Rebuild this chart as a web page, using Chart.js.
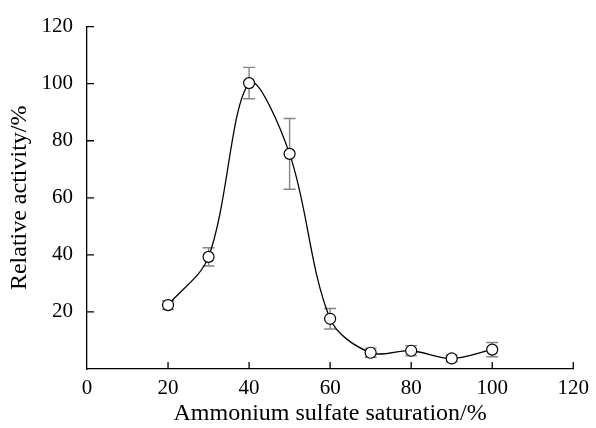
<!DOCTYPE html>
<html>
<head>
<meta charset="utf-8">
<script src="https://cdn.jsdelivr.net/npm/chart.js@4.4.0/dist/chart.umd.min.js"></script>
<style>
  html, body { margin: 0; padding: 0; background: #fff; }
  #wrap { width: 596px; height: 428px; }
</style>
</head>
<body>
<div id="wrap"><canvas id="chart" width="596" height="428"></canvas></div>
<script>
// Ammonium sulfate saturation vs relative activity
const saturation = [20, 30, 40, 50, 60, 70, 80, 90, 100];
const activity = [22.4, 39.3, 100.2, 75.4, 17.6, 5.7, 6.4, 3.7, 6.8];
const errors = [1.5, 3.2, 5.5, 12.4, 3.6, 1.6, 1.8, 1.2, 2.5];
const xTicks = [0, 20, 40, 60, 80, 100, 120];
const yTicks = [0, 20, 40, 60, 80, 100, 120];

const serif = "'Liberation Serif', 'Times New Roman', serif";

// error bars drawn behind the markers
const errorBars = {
  id: 'errorBars',
  beforeDatasetsDraw(chart) {
    const ctx = chart.ctx;
    const xs = chart.scales.x, ys = chart.scales.y;
    ctx.save();
    ctx.strokeStyle = '#858585';
    ctx.lineWidth = 1.4;
    for (let i = 0; i < saturation.length; i++) {
      const px = xs.getPixelForValue(saturation[i]);
      const top = ys.getPixelForValue(activity[i] + errors[i]);
      const bot = ys.getPixelForValue(activity[i] - errors[i]);
      ctx.beginPath();
      ctx.moveTo(px, top); ctx.lineTo(px, bot);
      ctx.moveTo(px - 6, top); ctx.lineTo(px + 6, top);
      ctx.moveTo(px - 6, bot); ctx.lineTo(px + 6, bot);
      ctx.stroke();
    }
    ctx.restore();
  }
};

// inward tick marks
const inwardTicks = {
  id: 'inwardTicks',
  afterDraw(chart) {
    const ctx = chart.ctx;
    const xs = chart.scales.x, ys = chart.scales.y;
    const len = 7;
    ctx.save();
    ctx.strokeStyle = '#000';
    ctx.lineWidth = 1.3;
    ctx.beginPath();
    xTicks.forEach(v => {
      if (v === 0) return;
      const px = xs.getPixelForValue(v);
      ctx.moveTo(px, xs.top); ctx.lineTo(px, xs.top - len);
    });
    yTicks.forEach(v => {
      if (v === 0) return;
      const py = ys.getPixelForValue(v);
      ctx.moveTo(ys.right, py); ctx.lineTo(ys.right + len, py);
    });
    ctx.stroke();
    ctx.restore();
  }
};

new Chart(document.getElementById('chart'), {
  type: 'line',
  data: {
    datasets: [{
      data: saturation.map((x, i) => ({ x: x, y: activity[i] })),
      borderColor: '#000',
      borderWidth: 1.3,
      tension: 0.33,
      pointRadius: 5.5,
      pointBackgroundColor: '#fff',
      pointBorderColor: '#000',
      pointBorderWidth: 1.2,
      fill: false
    }]
  },
  options: {
    responsive: false,
    animation: false,
    layout: { padding: { top: 23, right: 20, left: 0, bottom: 0 } },
    plugins: { legend: { display: false }, tooltip: { enabled: false } },
    scales: {
      x: {
        type: 'linear',
        min: 0, max: 120,
        afterBuildTicks: s => { s.ticks = xTicks.map(v => ({ value: v })); },
        afterFit: s => { s.height = 59; },
        grid: { display: false, drawTicks: false },
        border: { display: true, color: '#000', width: 1.3 },
        ticks: { color: '#000', padding: 7, font: { family: serif, size: 21 } },
        title: {
          display: true,
          text: 'Ammonium sulfate saturation/%',
          color: '#000',
          padding: { top: 0, bottom: 0 },
          font: { family: serif, size: 24 }
        }
      },
      y: {
        type: 'linear',
        min: 0, max: 120,
        afterBuildTicks: s => { s.ticks = yTicks.map(v => ({ value: v })); },
        afterFit: s => { s.width = 87; },
        grid: { display: false, drawTicks: false },
        border: { display: true, color: '#000', width: 1.3 },
        ticks: {
          color: '#000', padding: 14,
          font: { family: serif, size: 21 },
          callback: v => (v === 0 ? '' : v)
        },
        title: {
          display: true,
          text: 'Relative activity/%',
          color: '#000',
          padding: { top: 5, bottom: 0 },
          font: { family: serif, size: 24 }
        }
      }
    }
  },
  plugins: [errorBars, inwardTicks]
});
</script>
</body>
</html>
